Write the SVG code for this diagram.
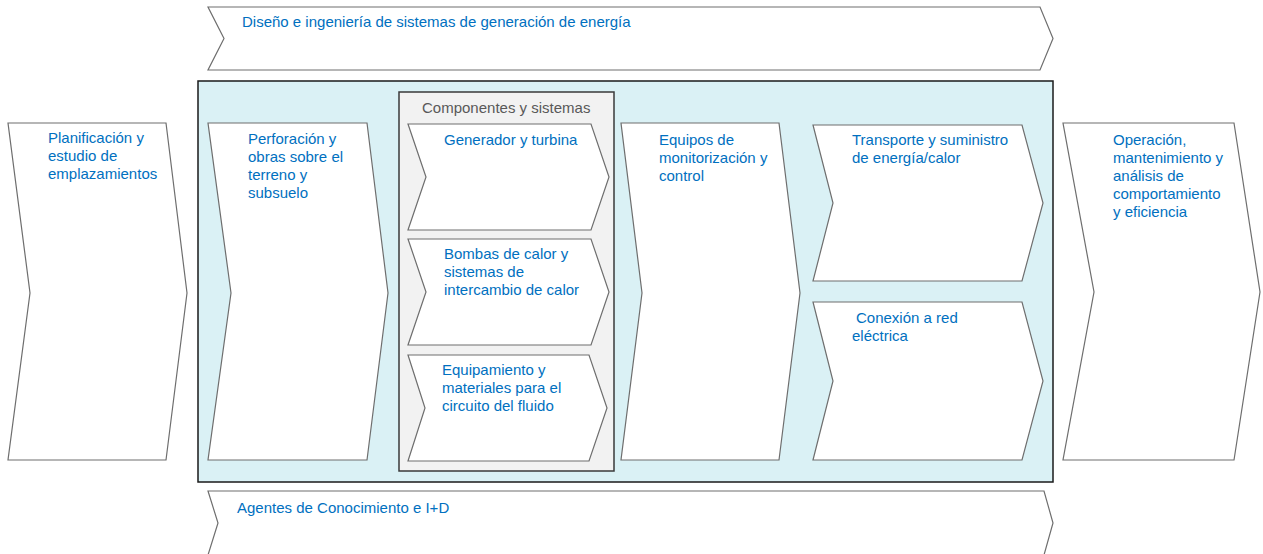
<svg xmlns="http://www.w3.org/2000/svg" width="1263" height="554" viewBox="0 0 1263 554">
<style>
.ch{fill:#fff;stroke:#6e6e6e;stroke-width:1.2;stroke-linejoin:miter}
.t{font-family:"Liberation Sans",Arial,sans-serif;font-size:15px;fill:#0070C0}
.g{font-family:"Liberation Sans",Arial,sans-serif;font-size:15px;fill:#595959}
</style>
<rect width="1263" height="554" fill="#fff"/>
<g id="band-top">
<polygon class="ch" points="208,7 1040,7 1053,38.5 1040,70 208,70 224,38.5"/>
<text class="t" x="242" y="27">Diseño e ingeniería de sistemas de generación de energía</text>
</g>
<g id="main-box">
<rect x="198" y="81" width="855" height="401" fill="#DAF1F5" stroke="#1a1a1a" stroke-width="1.5"/>
</g>
<g id="band-bottom">
<polygon class="ch" points="208,491 1044,491 1053,523 1044,555 208,555 218,523"/>
<text class="t" x="237" y="513">Agentes de Conocimiento e I+D</text>
</g>
<g id="planificacion">
<polygon class="ch" points="8,123 166,123 187,293 166,460 8,460 30,293"/>
<text class="t" x="48" y="143">Planificación y</text>
<text class="t" x="48" y="161">estudio de</text>
<text class="t" x="48" y="179">emplazamientos</text>
</g>
<g id="perforacion">
<polygon class="ch" points="208,123 367,123 388,293 367,460 208,460 231,293"/>
<text class="t" x="248" y="144">Perforación y</text>
<text class="t" x="248" y="162">obras sobre el</text>
<text class="t" x="248" y="180">terreno y</text>
<text class="t" x="248" y="198">subsuelo</text>
</g>
<g id="componentes">
<rect x="399" y="92" width="215" height="379" fill="#F2F2F2" stroke="#3a3a3a" stroke-width="1.5"/>
<text class="g" x="422" y="113">Componentes y sistemas</text>
</g>
<g id="generador">
<polygon class="ch" points="408,124 591,124 609,177 591,230 408,230 426,177"/>
<text class="t" x="444" y="145">Generador y turbina</text>
</g>
<g id="bombas">
<polygon class="ch" points="408,239 591,239 609,292 591,345 408,345 426,292"/>
<text class="t" x="444" y="259">Bombas de calor y</text>
<text class="t" x="444" y="277">sistemas de</text>
<text class="t" x="444" y="295">intercambio de calor</text>
</g>
<g id="equipamiento">
<polygon class="ch" points="408,355 589,355 607,408 589,461 408,461 425,408"/>
<text class="t" x="442" y="375">Equipamiento y</text>
<text class="t" x="442" y="393">materiales para el</text>
<text class="t" x="442" y="411">circuito del fluido</text>
</g>
<g id="equipos">
<polygon class="ch" points="621,123 779,123 800,293 779,460 621,460 642,293"/>
<text class="t" x="659" y="145">Equipos de</text>
<text class="t" x="659" y="163">monitorización y</text>
<text class="t" x="659" y="181">control</text>
</g>
<g id="transporte">
<polygon class="ch" points="813,125 1022,125 1043,203 1022,281 813,281 833,203"/>
<text class="t" x="852" y="145">Transporte y suministro</text>
<text class="t" x="852" y="163">de energía/calor</text>
</g>
<g id="conexion">
<polygon class="ch" points="813,302 1022,302 1043,381 1022,460 813,460 833,381"/>
<text class="t" x="856" y="323">Conexión a red</text>
<text class="t" x="852" y="341">eléctrica</text>
</g>
<g id="operacion">
<polygon class="ch" points="1063,123 1234,123 1260,292 1234,460 1063,460 1094,292"/>
<text class="t" x="1113" y="145">Operación,</text>
<text class="t" x="1113" y="163">mantenimiento y</text>
<text class="t" x="1113" y="181">análisis de</text>
<text class="t" x="1113" y="199">comportamiento</text>
<text class="t" x="1113" y="217">y eficiencia</text>
</g>
<g id="connectors"></g>
</svg>
